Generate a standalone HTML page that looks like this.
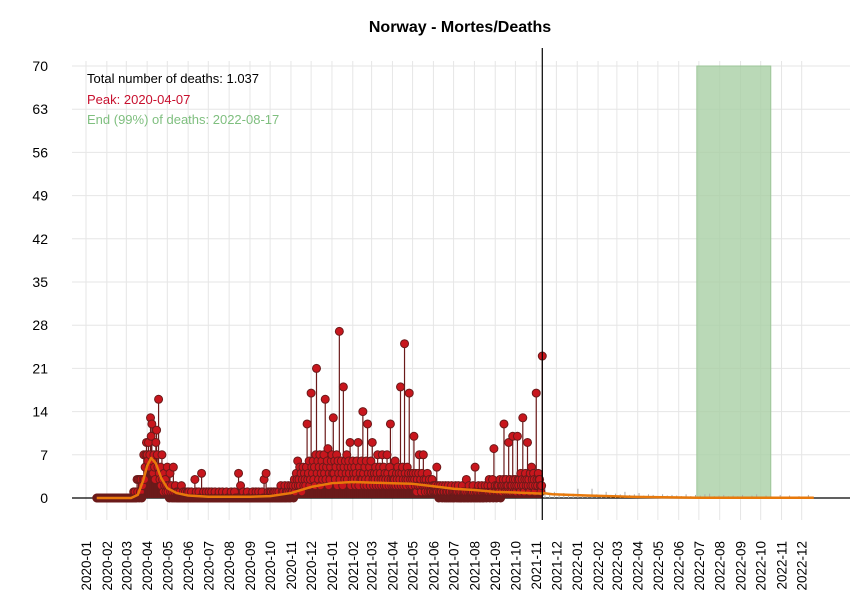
<!DOCTYPE html>
<html><head><meta charset="utf-8">
<style>
html,body{margin:0;padding:0;background:#fff;}
svg{display:block;font-family:"Liberation Sans",Arial,sans-serif;}
</style></head>
<body>
<svg id="chart" width="850" height="600" viewBox="0 0 850 600">
<rect x="0" y="0" width="850" height="600" fill="#fff"/>
<text x="460" y="32" text-anchor="middle" font-size="16" font-weight="bold">Norway - Mortes/Deaths</text>
<g id="grid"></g><g id="band"></g><g id="forecast"></g><g id="series"></g><g id="axes"></g>
<text x="87" y="83" font-size="13" fill="#000">Total number of deaths: 1.037</text>
<text x="87" y="104" font-size="13" fill="#c8102e">Peak: 2020-04-07</text>
<text x="87" y="124" font-size="13" fill="#7fbf7f">End (99%) of deaths: 2022-08-17</text>
</svg>
<script>
const yTicks=[0,7,14,21,28,35,42,49,56,63,70];
const monthLabels=["2020-01","2020-02","2020-03","2020-04","2020-05","2020-06","2020-07","2020-08","2020-09","2020-10","2020-11","2020-12","2021-01","2021-02","2021-03","2021-04","2021-05","2021-06","2021-07","2021-08","2021-09","2021-10","2021-11","2021-12","2022-01","2022-02","2022-03","2022-04","2022-05","2022-06","2022-07","2022-08","2022-09","2022-10","2022-11","2022-12"];
const startDate="2020-01-17";
const deaths=[
0,0,0,0,0,0,0,0,0,0,0,0,0,0,0,
0,0,0,0,0,0,0,0,0,0,0,0,0,0,0,0,0,0,0,0,0,0,0,0,0,0,0,0,0,
0,0,0,0,0,0,0,0,0,0,0,1,0,1,0,0,3,1,3,0,3,1,3,0,2,3,7,3,5,7,9,
7,6,9,5,7,13,10,12,6,4,7,5,3,9,11,7,5,16,4,3,5,2,7,3,1,4,2,3,1,2,
5,1,2,0,4,1,2,0,1,5,0,1,2,0,1,0,1,0,0,1,0,2,0,0,1,0,0,1,0,0,1,
0,1,0,0,0,1,0,0,0,0,3,0,1,0,0,0,1,0,0,0,4,0,0,1,0,0,0,1,0,0,0,
1,0,0,0,1,0,0,0,0,1,0,0,0,0,0,1,0,0,0,0,1,0,0,0,0,0,1,0,0,0,0,
0,0,1,0,0,0,0,1,0,0,0,0,0,4,0,0,2,0,0,0,1,0,0,0,0,0,1,0,0,0,0,
0,0,0,1,0,0,0,0,1,0,0,0,1,0,0,0,0,1,0,0,3,0,0,4,0,0,1,0,0,1,
0,1,0,0,1,0,1,0,0,1,0,0,1,0,0,2,0,1,0,1,0,2,0,1,0,1,2,0,1,0,2,1,
1,2,0,3,1,2,4,3,6,2,3,5,2,4,1,3,5,2,4,3,2,5,12,3,4,6,2,3,17,5,
4,6,3,5,2,7,21,4,6,3,5,7,2,4,6,3,5,7,4,16,3,5,6,8,2,4,3,5,6,7,4,
13,4,6,3,5,7,2,6,4,27,3,5,6,4,2,18,5,3,6,4,7,3,5,6,4,9,2,5,3,6,4,
3,5,2,4,6,3,9,2,5,4,3,6,3,14,4,2,5,3,6,2,12,4,3,5,2,6,4,9,3,
2,4,3,5,2,4,7,3,2,5,4,3,2,7,3,5,2,4,3,2,7,4,3,2,5,12,3,2,4,3,2,
3,6,2,4,3,5,2,4,3,18,2,4,5,3,2,25,4,3,2,5,3,4,17,2,3,4,2,3,4,10,
3,2,4,1,3,2,4,7,2,3,1,4,2,7,3,2,1,3,2,4,1,2,3,1,2,1,3,2,1,2,1,
2,1,5,1,2,0,1,2,1,1,0,2,1,1,0,2,1,0,1,2,0,1,1,0,2,1,0,1,0,1,2,
1,0,1,2,0,1,0,1,0,2,1,0,1,0,1,3,0,1,0,2,1,0,1,0,1,2,0,1,5,0,1,
0,1,2,0,1,0,1,2,0,1,0,1,2,1,0,1,2,1,3,0,1,2,1,3,0,8,1,2,1,0,2,
1,2,1,3,0,2,1,2,3,12,2,1,3,2,1,2,9,1,3,2,1,2,10,3,1,2,3,1,2,10,3,
2,3,1,4,2,3,13,2,1,3,4,2,3,9,2,3,1,4,2,5,3,2,4,3,1,2,17,3,2,4,3,
3,2,1,2,23];
const trendDates=["2020-01-17","2020-03-08","2020-03-18","2020-03-26","2020-04-01","2020-04-07","2020-04-14","2020-04-22","2020-05-01","2020-05-15","2020-06-01","2020-07-01","2020-09-01","2020-10-01","2020-11-01","2020-12-01","2021-01-01","2021-02-01","2021-03-01","2021-04-01","2021-05-01","2021-06-01","2021-07-01","2021-08-01","2021-09-01","2021-10-01","2021-11-10"];
const trendValues=[0,0,0.5,2.8,5.2,6.5,5.6,3.2,1.6,0.8,0.4,0.2,0.2,0.3,0.8,1.8,2.4,2.6,2.5,2.4,2.3,1.9,1.5,1.3,1.0,0.9,0.7];
const forecastDates=["2021-11-10","2021-11-11","2021-11-25","2022-01-15","2022-03-20","2022-07-01","2022-12-19"];
const forecastValues=[0.7,0.8,0.6,0.4,0.2,0.05,0.05];
const forecastBarStart="2021-11-14";
const forecastBars=[2,0.6,1,0.5,0.8,0.4,0.7,1.5,0.5,0.3,1.5,0.6,0.5,1,0.5,0.7,0.6,1,0.5,0.6,0.8,0.4,0.6,0.5,0.3,0.6,0.4,0.5,0.4,0.3,0.6,0.3,0.5,0.4,0.6,0.7,0.3,0.4,0.5,0.3,0.4,0.3,0.5,0,0.4,0.6,0,0.4,0.3,0,0.5,0,0.4,0,0.3,0,0.5,0];
const peakBandStart="2020-03-20";
const peakBandEnd="2020-04-24";
const endBandStart="2022-06-28";
const endBandEnd="2022-10-16";
const eventLine="2021-11-10";

const NS="http://www.w3.org/2000/svg";
const X0=86,PXD=0.672,Y0=498,PXU=432/70,PL=72,PR=850;
const base=Date.UTC(2020,0,1);
function dayOf(s){const p=s.split("-").map(Number);return (Date.UTC(p[0],p[1]-1,p[2]||1)-base)/864e5;}
function xS(d){return X0+d*PXD;}
function yS(v){return Y0-v*PXU;}
function mk(tag,attrs,parent){const e=document.createElementNS(NS,tag);for(const k in attrs)e.setAttribute(k,attrs[k]);parent.appendChild(e);return e;}
const grid=document.getElementById("grid"),axes=document.getElementById("axes"),series=document.getElementById("series"),band=document.getElementById("band"),fc=document.getElementById("forecast");

yTicks.forEach(t=>{
  const l=mk("line",{x1:PL,x2:PR,y1:yS(t),y2:yS(t),stroke:"#e6e6e6","stroke-width":1},grid);
  
  
  const tx=mk("text",{x:48,y:yS(t)+5,"text-anchor":"end","font-size":14,fill:"#000"},axes);
  tx.textContent=t;
  
  
});
monthLabels.forEach(m=>{
  const x=xS(dayOf(m+"-01"));
  const l=mk("line",{x1:x,x2:x,y1:yS(70)-5,y2:520,stroke:"#e6e6e6","stroke-width":1},grid);
  
  
  const tx=mk("text",{x:0,y:0,"text-anchor":"end","font-size":13.5,fill:"#000",transform:`translate(${x+5},541) rotate(-90)`},axes);
  tx.textContent=m;
  
  
});
const eb=mk("rect",{x:xS(dayOf(endBandStart)),y:yS(70),width:xS(dayOf(endBandEnd))-xS(dayOf(endBandStart)),height:70*PXU,fill:"#a9cfa5","fill-opacity":0.8,stroke:"#9cc598"},band);


const zl=mk("line",{x1:PL,x2:PR,y1:Y0,y2:Y0,stroke:"#000","stroke-width":1.2},band);


const fb0=dayOf(forecastBarStart);
forecastBars.forEach((v,i)=>{
  const x=xS(fb0+i*7);
  if(v<=0)return;
  const l=mk("line",{x1:x,x2:x,y1:Y0,y2:yS(v),stroke:"#aaa","stroke-width":1},fc);
  
  
});
function trendAt(d){for(let i=0;i<trendDates.length-1;i++){const a=dayOf(trendDates[i]),b=dayOf(trendDates[i+1]);if(d>=a&&d<=b){return trendValues[i]+(trendValues[i+1]-trendValues[i])*(d-a)/(b-a);}}return 0;}
const pa=dayOf(peakBandStart),pb=dayOf(peakBandEnd);
let pp=`M${xS(pa)},${Y0}`;
for(let d=pa;d<=pb;d++)pp+=` L${xS(d)},${yS(trendAt(d))}`;
pp+=` L${xS(pb)},${Y0} Z`;
const pk=mk("path",{d:pp,fill:"#e07a8a","fill-opacity":0.75},series);


const s0=dayOf(startDate);
deaths.forEach((v,i)=>{
  const x=xS(s0+i);
  if(v>0){
    const l=mk("line",{x1:x,x2:x,y1:Y0,y2:yS(v),stroke:"#6b1a1a","stroke-width":1.2},series);
    
    
  }
});
deaths.forEach((v,i)=>{
  const x=xS(s0+i);
  const c=mk("circle",{cx:x,cy:yS(v),r:4,fill:v>0?"#c8161d":"#6b1a1a",stroke:"#6b1a1a","stroke-width":1},series);
  
  
});
let td="";
trendDates.forEach((d,i)=>{td+=(i?" L":"M")+xS(dayOf(d))+","+yS(trendValues[i]);});
const tl=mk("path",{d:td,fill:"none",stroke:"#e8790b","stroke-width":2.5,"stroke-linejoin":"round"},series);


let fd="";
forecastDates.forEach((d,i)=>{fd+=(i?" L":"M")+xS(dayOf(d))+","+yS(forecastValues[i]);});
const fl=mk("path",{d:fd,fill:"none",stroke:"#e8790b","stroke-width":2.5},series);


const ex=xS(dayOf(eventLine));
const vl=mk("line",{x1:ex,x2:ex,y1:48,y2:520,stroke:"#000","stroke-width":1.2},series);


</script>
</body></html>
